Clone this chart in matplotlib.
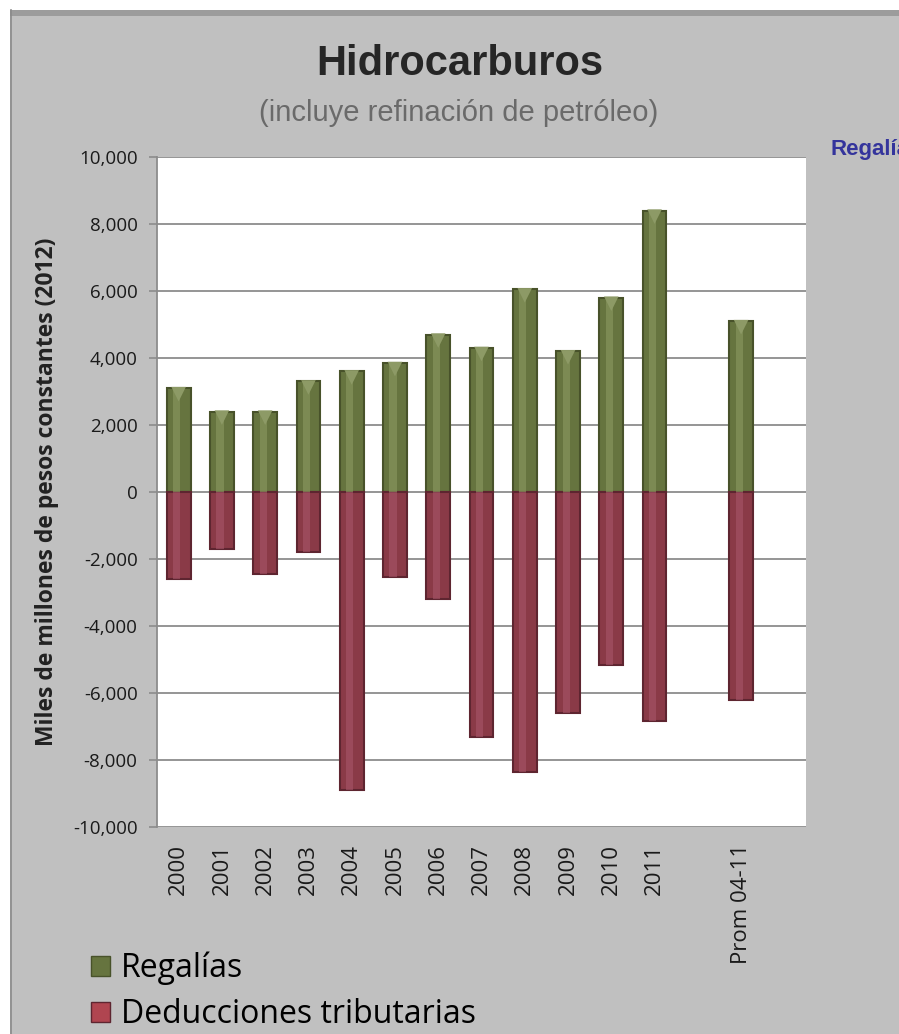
import matplotlib
matplotlib.use("Agg")
import matplotlib.pyplot as plt
from matplotlib.patches import Rectangle
from matplotlib.lines import Line2D
import numpy as np

# Categories (an empty slot separates the yearly bars from the average)
categories = ["2000", "2001", "2002", "2003", "2004", "2005", "2006",
              "2007", "2008", "2009", "2010", "2011", "", "Prom 04-11", ""]

# Regalías (positive) and deducciones tributarias (negative), miles de millones de pesos 2012
regalias = [3100, 2400, 2400, 3300, 3600, 3850, 4700,
            4300, 6050, 4200, 5800, 8400, np.nan, 5100, np.nan]
deducciones = [-2600, -1700, -2450, -1800, -8900, -2550, -3200,
               -7300, -8350, -6600, -5150, -6850, np.nan, -6200, np.nan]

y_ticks = [-10000, -8000, -6000, -4000, -2000, 0, 2000, 4000, 6000, 8000, 10000]

green = "#66743f"
green_dark = "#48522a"
green_light = "#86945c"
red = "#8a3a47"
red_dark = "#5e2530"
red_light = "#a8566a"
bg = "#c0c0c0"

plt.rcParams["font.family"] = ["Open Sans", "DejaVu Sans"]

fig = plt.figure(figsize=(8.99, 10.34), dpi=100, facecolor="white")

# gray chart area with a darker top border
fig.patches.append(Rectangle((10 / 899, 0), 1, 1 - 10 / 1034, transform=fig.transFigure,
                             facecolor=bg, edgecolor="none", zorder=-10))
fig.patches.append(Rectangle((10 / 899, 1 - 16 / 1034), 1, 6 / 1034, transform=fig.transFigure,
                             facecolor="#9c9c9c", edgecolor="none", zorder=-9))
fig.lines.append(Line2D([11 / 899, 11 / 899], [0, 1 - 10 / 1034], transform=fig.transFigure,
                        color="#8a8a8a", lw=1.2, zorder=-8))

ax = fig.add_axes([157 / 899, 1 - 827 / 1034, (806 - 157) / 899, (827 - 157) / 1034])
ax.set_facecolor("white")

x = np.arange(len(categories))
w = 0.55

# cylinder-like shading: dark body, lighter core stripe
ax.bar(x, regalias, width=w, color=green, edgecolor=green_dark, linewidth=1.5, zorder=3)
ax.bar(x - w * 0.08, regalias, width=w * 0.3, color=green_light, edgecolor="none", zorder=4, alpha=0.7)
ax.bar(x, deducciones, width=w, color=red, edgecolor=red_dark, linewidth=1.5, zorder=3)
ax.bar(x - w * 0.08, deducciones, width=w * 0.3, color=red_light, edgecolor="none", zorder=4, alpha=0.6)

# bevelled caps
ax.scatter(x, np.array(regalias) - 180, marker="v", s=110, color="#8d9a66",
           edgecolor="none", zorder=5)

ax.set_xlim(-0.5, len(categories) - 0.5)
ax.set_ylim(-10000, 10000)
ax.set_yticks(y_ticks)
ax.set_yticklabels([f"{v:,}" for v in y_ticks], fontsize=13.5, color="#1a1a1a")
ax.yaxis.grid(True, color="#8c8c8c", linewidth=1.3, zorder=0)
ax.set_axisbelow(True)
ax.tick_params(axis="y", length=6, width=1.2, color="#8c8c8c", pad=8)

ax.set_xticks(x)
ax.set_xticklabels(categories, rotation=90, fontsize=16, color="#1a1a1a", va="top")
ax.tick_params(axis="x", length=0, pad=12)

for side in ["top", "right", "bottom"]:
    ax.spines[side].set_visible(False)
ax.spines["left"].set_color("#8c8c8c")
ax.spines["left"].set_linewidth(1.3)

fig.text(47 / 899, 1 - 492 / 1034, "Miles de millones de pesos constantes (2012)",
         rotation=90, ha="center", va="center", fontsize=16.5, fontweight="bold",
         color="#222222")

fig.text(460 / 899, 1 - 64 / 1034, "Hidrocarburos", ha="center", va="center",
         fontsize=30, fontweight="bold", color="#262626", family="Liberation Sans")
fig.text(459 / 899, 1 - 113 / 1034, "(incluye refinación de petróleo)", ha="center",
         va="center", fontsize=21, color="#6a6a6a", family="Liberation Sans")

fig.text(830 / 899, 1 - 149 / 1034, "Regalías", ha="left", va="center",
         fontsize=16, fontweight="bold", color="#34349c", family="Liberation Sans")

handles = [Rectangle((0, 0), 1, 1, facecolor=green, edgecolor=green_dark),
           Rectangle((0, 0), 1, 1, facecolor="#b04550", edgecolor=red_dark)]
fig.legend(handles, ["Regalías", "Deducciones tributarias"],
           loc="upper left", bbox_to_anchor=(75 / 899, 1 - 936 / 1034),
           frameon=False, fontsize=23, handlelength=0.6, handleheight=0.6,
           handletextpad=0.35, labelspacing=0.4, borderpad=0)

fig.savefig("out.png", dpi=100, facecolor=fig.get_facecolor())
